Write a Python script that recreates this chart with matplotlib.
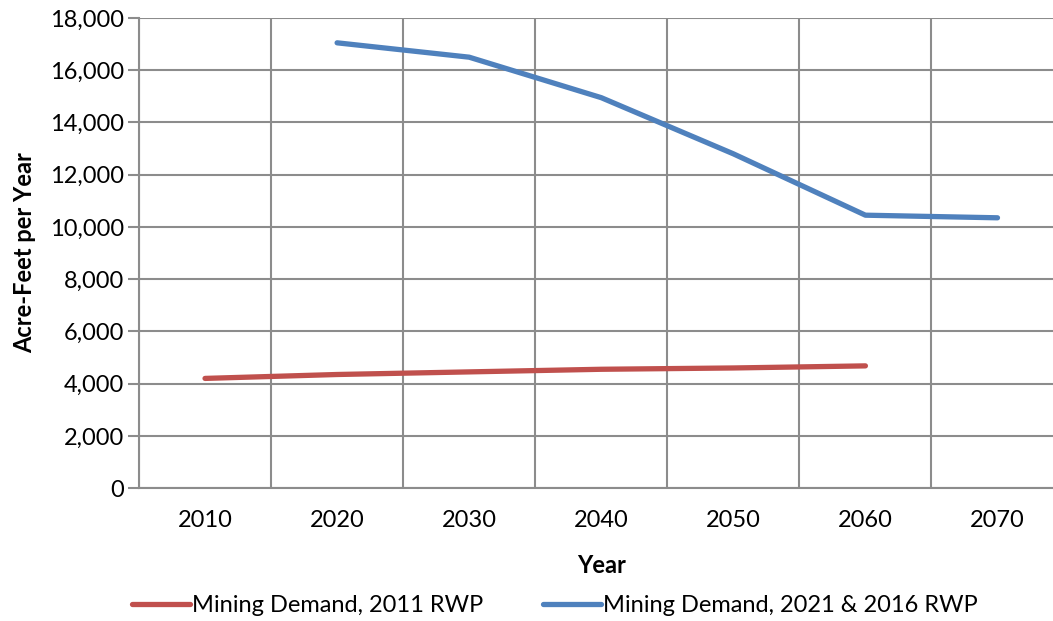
import matplotlib.pyplot as plt
import numpy as np

# Data
years = ['2010', '2020', '2030', '2040', '2050', '2060', '2070']
demand_2011 = [4200, 4350, 4450, 4550, 4600, 4680, np.nan]
demand_2021 = [np.nan, 17050, 16500, 14950, 12800, 10450, 10350]

red = '#C0504D'
blue = '#4F81BD'
grid_col = '#8C8C8C'

plt.rcParams['font.family'] = ['Lato', 'DejaVu Sans']

fig = plt.figure(figsize=(10.53, 6.21), dpi=100)
ax = fig.add_axes([0.132, 0.214, 0.878, 0.757])

x = np.arange(len(years))
ax.plot(x, demand_2011, color=red, lw=3.8, solid_capstyle='round',
        label='Mining Demand, 2011 RWP')
ax.plot(x, demand_2021, color=blue, lw=3.8, solid_capstyle='round',
        label='Mining Demand, 2021 & 2016 RWP')

ax.set_xlim(-0.5, len(years) - 0.5)
ax.set_ylim(0, 18000)
ax.set_yticks(range(0, 18001, 2000))
ax.set_yticklabels([f'{v:,}' for v in range(0, 18001, 2000)], fontsize=17)
ax.set_xticks(x)
ax.set_xticklabels(years, fontsize=17)
ax.set_xticks(np.arange(-0.5, len(years), 1), minor=True)

ax.tick_params(axis='x', which='both', length=0, pad=16)
ax.tick_params(axis='y', length=8, width=1.5, color=grid_col, pad=3)
ax.grid(axis='y', color=grid_col, lw=1.5)
ax.grid(axis='x', which='minor', color=grid_col, lw=1.5)
ax.set_axisbelow(True)
for s in ['top', 'right']:
    ax.spines[s].set_visible(False)
for s in ['left', 'bottom']:
    ax.spines[s].set_color(grid_col)
    ax.spines[s].set_linewidth(1.5)

ax.set_xlabel('Year', fontsize=17, fontweight='bold', labelpad=16)
ax.set_ylabel('Acre-Feet per Year', fontsize=17, fontweight='bold', labelpad=10)

fig.legend(loc='center', bbox_to_anchor=(0.527, 0.025), ncol=2, frameon=False,
           fontsize=17, handlelength=2.45, handletextpad=0.1, columnspacing=2.5)

fig.savefig('out.png', dpi=100)
